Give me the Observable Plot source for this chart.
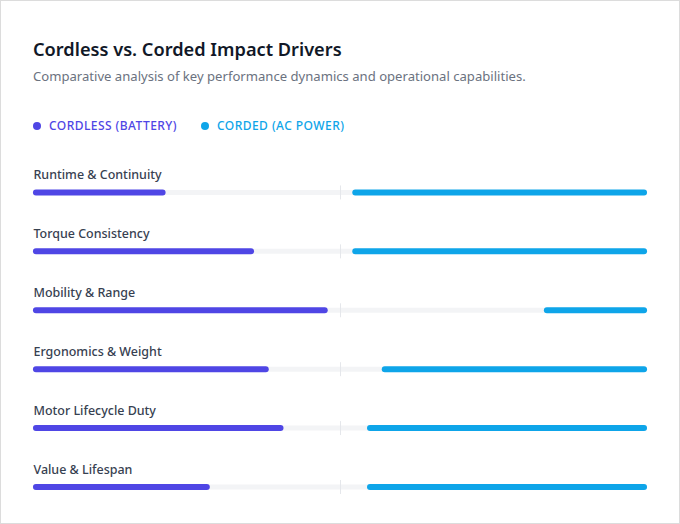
<!DOCTYPE html>
<html>
<head>
<meta charset="utf-8">
<script src="https://cdn.jsdelivr.net/npm/d3@7"></script>
<script src="https://cdn.jsdelivr.net/npm/@observablehq/plot@0.6"></script>
<style>
  html, body { margin: 0; padding: 0; background: #fff; }
  body { width: 680px; height: 524px; overflow: hidden; font-family: "Noto Sans", "Open Sans", sans-serif; }
  #card { position: relative; width: 680px; height: 524px; box-sizing: border-box; border: 1px solid #dcdcdc; background: #fff; }
  #title { position: absolute; left: 32px; top: 36px; font-size: 18.2px; line-height: 24px; font-weight: 600; color: #111827; margin: 0; }
  #subtitle { position: absolute; left: 32px; top: 66px; font-size: 13.1px; line-height: 18px; color: #6b7280; margin: 0; }
  #legend { position: absolute; left: 32px; top: 117px; display: flex; gap: 24px; font-size: 12px; line-height: 16px; font-weight: 500; letter-spacing: 0.45px; text-transform: uppercase; }
  .item { display: flex; align-items: center; gap: 8px; }
  .dot { width: 8px; height: 8px; border-radius: 50%; display: inline-block; }
  #chart { position: absolute; left: -1px; top: 149px; }
</style>
</head>
<body>
<div id="card">
  <div id="title">Cordless vs. Corded Impact Drivers</div>
  <div id="subtitle">Comparative analysis of key performance dynamics and operational capabilities.</div>
  <div id="legend"></div>
  <div id="chart"></div>
</div>
<script>
const categories = ["Runtime & Continuity", "Torque Consistency", "Mobility & Range", "Ergonomics & Weight", "Motor Lifecycle Duty", "Value & Lifespan"];
const cordless = [4.5, 7.5, 10, 8, 8.5, 6];
const corded = [10, 10, 3.5, 9, 9.5, 9.5];
const seriesNames = ["Cordless (Battery)", "Corded (AC Power)"];
const seriesColors = ["#4f46e5", "#0ea5e9"];
const maxScore = 10;
const halfShare = 48; // percent of track per side at max score

const legend = document.getElementById("legend");
seriesNames.forEach((n, i) => {
  const it = document.createElement("div");
  it.className = "item";
  it.style.color = seriesColors[i];
  it.innerHTML = `<span class="dot" style="background:${seriesColors[i]}"></span><span>${n}</span>`;
  legend.appendChild(it);
});

const rows = categories.map((c, i) => ({
  category: c,
  cordlessEnd: cordless[i] / maxScore * halfShare,
  cordedStart: 100 - corded[i] / maxScore * halfShare
}));

const bandStep = 59;
const chart = Plot.plot({
  width: 680,
  height: 13 + bandStep * categories.length,
  marginLeft: 33,
  marginRight: 32,
  marginTop: 13,
  marginBottom: 0,
  x: { domain: [0, 100], axis: null },
  y: { type: "band", domain: categories, padding: 0, axis: null },
  style: { fontFamily: "'Noto Sans', 'Open Sans', sans-serif", overflow: "visible" },
  marks: [
    Plot.barX(rows, { y: "category", x1: 0, x2: 100, fill: "#f3f4f6", insetTop: 27, insetBottom: 27, rx: 2.5 }),
    Plot.tickX(rows, { y: "category", x: 50, stroke: "#e5e7eb", strokeWidth: 1, insetTop: 22.5, insetBottom: 22.5 }),
    Plot.barX(rows, { y: "category", x1: 0, x2: "cordlessEnd", fill: seriesColors[0], insetTop: 26.5, insetBottom: 26.5, rx: 3 }),
    Plot.barX(rows, { y: "category", x1: "cordedStart", x2: 100, fill: seriesColors[1], insetTop: 26.5, insetBottom: 26.5, rx: 3 }),
    Plot.text(rows, { y: "category", x: 0, text: "category", textAnchor: "start", dy: -18, fontSize: 12.5, fontWeight: 500, fill: "#374151" })
  ]
});
document.getElementById("chart").appendChild(chart);
</script>
</body>
</html>
